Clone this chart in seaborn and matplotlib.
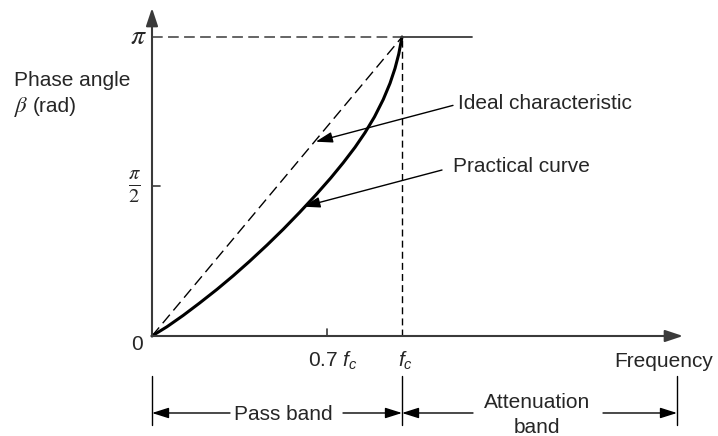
import numpy as np
import pandas as pd
import matplotlib
matplotlib.use("Agg")
import matplotlib.pyplot as plt
import seaborn as sns

# Frequency in units of f_c, phase in units of pi
freq_practical = [0.0, 0.06, 0.125, 0.19, 0.26, 0.325, 0.39, 0.46, 0.525,
                  0.59, 0.655, 0.715, 0.765, 0.812, 0.852, 0.89, 0.925,
                  0.952, 0.972, 0.987, 1.0]
phase_practical = [0.0, 0.031, 0.069, 0.110, 0.156, 0.2015, 0.2496, 0.304,
                   0.357, 0.413, 0.4715, 0.5285, 0.5795, 0.631, 0.680, 0.733,
                   0.791, 0.845, 0.895, 0.943, 1.0]
freq_ideal = [0.0, 1.0]
phase_ideal = [0.0, 1.0]
freq_attenuation = [1.0, 1.28]
phase_attenuation = [1.0, 1.0]

x_ticks = [0.7, 1.0]
x_tick_labels = ["0.7 $f_c$", "$f_c$"]
y_ticks = [0.5, 1.0]
y_tick_labels = [r"$\frac{\pi}{2}$", r"$\pi$"]
band_edges = [0.0, 1.0, 2.1]

PI = np.pi
INK = "black"
AXIS = "#3a3a3a"

sns.set_style("white")
plt.rcParams["font.family"] = ["Liberation Sans", "DejaVu Sans"]
plt.rcParams["mathtext.fontset"] = "custom"
plt.rcParams["mathtext.rm"] = "Liberation Sans"
plt.rcParams["mathtext.it"] = "Liberation Sans:italic"

fig = plt.figure(figsize=(7.18, 4.36), dpi=100)
ax = fig.add_axes([0, 0, 1, 1])
ax.set_xlim(-0.608, 2.264)
ax.set_ylim(-1.0507, 3.5303)
ax.axis("off")

practical = pd.DataFrame({"freq": freq_practical,
                          "phase": np.array(phase_practical) * PI})
ideal = pd.DataFrame({"freq": freq_ideal, "phase": np.array(phase_ideal) * PI})
atten = pd.DataFrame({"freq": freq_attenuation,
                      "phase": np.array(phase_attenuation) * PI})

sns.lineplot(data=ideal, x="freq", y="phase", ax=ax, color=INK, lw=1.0,
             linestyle=(0, (8, 4)), sort=False)
sns.lineplot(data=practical, x="freq", y="phase", ax=ax, color=INK, lw=2.2,
             sort=False, solid_joinstyle="round")
sns.lineplot(data=atten, x="freq", y="phase", ax=ax, color=AXIS, lw=1.3,
             sort=False)

# guide lines at pi and at f_c
ax.plot([0, 1.0], [PI, PI], color=AXIS, lw=1.1, linestyle=(0, (7, 3.5)))
ax.plot([1.0, 1.0], [0, PI], color=INK, lw=1.0, linestyle=(0, (5, 3)))

# axes with arrow heads
axis_arrow = dict(arrowstyle="-|>,head_length=0.6,head_width=0.2",
                  mutation_scale=18, color=AXIS, lw=1.5,
                  shrinkA=0, shrinkB=0)
ax.annotate("", xy=(0, 3.446), xytext=(0, 0), arrowprops=axis_arrow)
ax.annotate("", xy=(2.124, 0), xytext=(0, 0), arrowprops=axis_arrow)

# ticks
ax.plot([x_ticks[0], x_ticks[0]], [0, 0.0735], color=AXIS, lw=1.2)
ax.plot([0, 0.032], [y_ticks[0] * PI, y_ticks[0] * PI], color=AXIS, lw=1.2)

fs = 15
ax.text(0.624, -0.3226, x_tick_labels[0], fontsize=fs, ha="left",
        va="baseline")
ax.text(0.984, -0.3226, x_tick_labels[1], fontsize=fs, ha="left",
        va="baseline")
ax.text(-0.06, -0.147, "0", fontsize=fs, ha="center", va="baseline")
ax.text(-0.072, y_ticks[0] * PI, y_tick_labels[0], fontsize=21, ha="center",
        va="center", math_fontfamily="stix")
ax.text(-0.022, y_ticks[1] * PI, y_tick_labels[1], fontsize=20, ha="right",
        va="center", math_fontfamily="stix")
ax.text(2.048, -0.3226, "Frequency", fontsize=fs, ha="center", va="baseline")
ax.text(-0.552, 2.627, "Phase angle", fontsize=fs, ha="left", va="baseline")
ax.text(-0.550, 2.354, r"$\beta$", fontsize=16.5, ha="left", va="baseline",
        math_fontfamily="stix")
ax.text(-0.476, 2.354, "(rad)", fontsize=fs, ha="left", va="baseline")

# callouts
note_arrow = dict(arrowstyle="-|>,head_length=0.6,head_width=0.19",
                  mutation_scale=17, color=INK, lw=1.0,
                  shrinkA=0, shrinkB=0)
ax.annotate("", xy=(0.655, 2.0415), xytext=(1.204, 2.423),
            arrowprops=note_arrow)
ax.text(1.222, 2.380, "Ideal characteristic", fontsize=fs, ha="left",
        va="baseline")
ax.annotate("", xy=(0.6052, 1.3586), xytext=(1.16, 1.744),
            arrowprops=note_arrow)
ax.text(1.204, 1.726, "Practical curve", fontsize=fs, ha="left",
        va="baseline")

# band markers below the axis
for edge in band_edges:
    ax.plot([edge, edge], [-0.4203, -0.9351], color=INK, lw=1.0)

band_y = -0.809
for start, end in [(0.312, band_edges[0]), (0.764, band_edges[1]),
                   (1.284, band_edges[1]), (1.804, band_edges[2])]:
    ax.annotate("", xy=(end, band_y), xytext=(start, band_y),
                arrowprops=note_arrow)
ax.text(0.524, -0.8826, "Pass band", fontsize=fs, ha="center", va="baseline")
ax.text(1.54, -0.7565, "Attenuation", fontsize=fs, ha="center",
        va="baseline")
ax.text(1.54, -1.0192, "band", fontsize=fs, ha="center", va="baseline")

fig.savefig("out.png", dpi=100)
